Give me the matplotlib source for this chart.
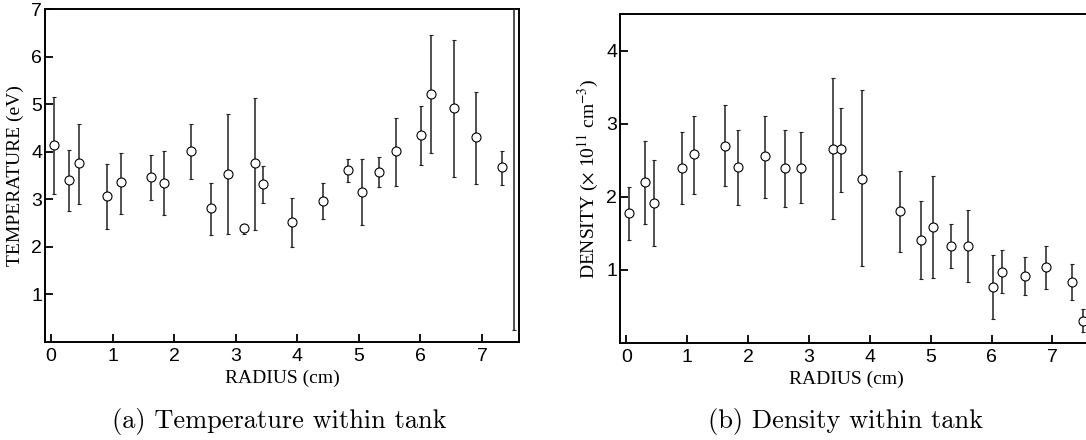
import matplotlib
matplotlib.use("Agg")
import matplotlib.pyplot as plt

plt.rcParams['mathtext.fontset'] = 'stix'

# temperature profile (left panel)
t_radius = [0.05, 0.29, 0.45, 0.91, 1.13, 1.62, 1.83, 2.27, 2.60, 2.87, 3.13, 3.32, 3.44,
            3.92, 4.42, 4.83, 5.05, 5.32, 5.61, 6.01, 6.17, 6.54, 6.90, 7.32, 7.52]
t_value = [4.14, 3.40, 3.77, 3.07, 3.36, 3.47, 3.35, 4.02, 2.81, 3.53, 2.39, 3.77, 3.32,
           2.53, 2.97, 3.61, 3.15, 3.57, 4.01, 4.36, 5.22, 4.92, 4.30, 3.68, 8.00]
t_low = [3.11, 2.75, 2.91, 2.37, 2.70, 2.99, 2.67, 3.42, 2.24, 2.27, 2.27, 2.35, 2.93,
         2.00, 2.58, 3.36, 2.45, 3.26, 3.28, 3.72, 3.98, 3.47, 3.33, 3.30, 0.25]
t_high = [5.15, 4.03, 4.59, 3.75, 3.98, 3.93, 4.02, 4.58, 3.35, 4.79, 2.48, 5.13, 3.70,
          3.03, 3.34, 3.84, 3.85, 3.88, 4.70, 4.97, 6.45, 6.34, 5.25, 4.02, 9.00]

# density profile (right panel), units of 1e11 cm^-3
d_radius = [0.05, 0.30, 0.46, 0.91, 1.12, 1.62, 1.83, 2.28, 2.61, 2.87, 3.39, 3.53,
            3.87, 4.50, 4.84, 5.04, 5.33, 5.62, 6.02, 6.17, 6.55, 6.90, 7.32, 7.50]
d_value = [1.78, 2.20, 1.92, 2.40, 2.58, 2.70, 2.41, 2.56, 2.40, 2.40, 2.66, 2.66,
           2.25, 1.80, 1.41, 1.59, 1.33, 1.33, 0.77, 0.97, 0.92, 1.04, 0.84, 0.30]
d_low = [1.41, 1.63, 1.32, 1.90, 2.04, 2.15, 1.89, 1.98, 1.86, 1.91, 1.70, 2.07,
         1.05, 1.25, 0.88, 0.89, 1.03, 0.83, 0.33, 0.68, 0.66, 0.74, 0.59, 0.15]
d_high = [2.14, 2.76, 2.50, 2.89, 3.10, 3.25, 2.91, 3.11, 2.92, 2.88, 3.62, 3.22,
          3.46, 2.35, 1.94, 2.28, 1.63, 1.82, 1.21, 1.27, 1.17, 1.33, 1.08, 0.46]

W, H = 1086, 440
fig = plt.figure(figsize=(W / 100, H / 100), dpi=100)

ax1 = fig.add_axes([45 / W, (H - 342) / H, 474 / W, 333 / H])
ax2 = fig.add_axes([620 / W, (H - 343) / H, 475 / W, 329 / H])

LABEL = dict(fontfamily='Liberation Serif', fontsize=14)


def draw(ax, x, y, lo, hi):
    err = [[v - l for v, l in zip(y, lo)], [h - v for v, h in zip(y, hi)]]
    ax.errorbar(x, y, yerr=err, fmt='o', ms=6.5, mfc='white', mec='black', mew=0.8,
                ecolor='#222222', elinewidth=1.1, capsize=1.6, capthick=1.0, zorder=3)
    ax.tick_params(direction='in', length=6, width=1.3, labelsize=14, pad=2)
    ax.tick_params(axis='x', pad=4)
    for lab in ax.get_xticklabels() + ax.get_yticklabels():
        lab.set_fontfamily('Liberation Sans')
    for sp in ax.spines.values():
        sp.set_linewidth(1.4)


draw(ax1, t_radius, t_value, t_low, t_high)
ax1.set_xlim(-0.097, 7.6)
ax1.set_ylim(0, 7)
ax1.set_xticks(range(8))
ax1.set_yticks(range(1, 8))
ax1.set_xlabel('RADIUS (cm)', **LABEL)
ax1.set_ylabel('TEMPERATURE (eV)', **LABEL)
ax1.xaxis.set_label_coords(0.5, -0.083)
ax1.yaxis.set_label_coords(-0.045, 0.5)

draw(ax2, d_radius, d_value, d_low, d_high)
ax2.set_xlim(-0.103, 7.7)
ax2.set_ylim(0, 4.5)
ax2.set_xticks(range(8))
ax2.set_yticks(range(1, 5))
ax2.set_xlabel('RADIUS (cm)', **LABEL)
ax2.set_ylabel(r'DENSITY ($\times$ 10$^{11}$ cm$^{-3}$)', **LABEL)
ax2.xaxis.set_label_coords(0.476, -0.083)
ax2.yaxis.set_label_coords(-0.04, 0.5)

fig.text(279 / W, 1 - 428 / H, '(a) Temperature within tank', fontfamily='cmr10',
         fontsize=19, ha='center', va='baseline')
fig.text(846 / W, 1 - 428 / H, '(b) Density within tank', fontfamily='cmr10',
         fontsize=19, ha='center', va='baseline')

fig.savefig('out.png', dpi=100)
